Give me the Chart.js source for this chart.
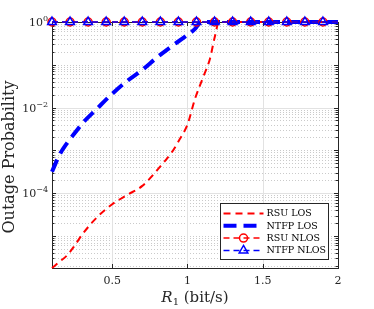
<!DOCTYPE html>
<html lang="en">
<head>
  <meta charset="UTF-8">
  <title>Outage Probability</title>
  <script src="https://cdn.jsdelivr.net/npm/chart.js"></script>
  <style>
    body { margin: 0; background: #fff; }
  </style>
</head>
<body>
  <canvas id="myChart" width="374" height="309"></canvas>

  <script>
    // RSU LOS (thin red dashed)
    const rsuLosX = [0.1, 0.15, 0.2, 0.25, 0.3, 0.4, 0.5, 0.6, 0.7, 0.8, 0.9, 0.95, 1.0, 1.05, 1.1, 1.15, 1.18, 1.21, 1.3, 1.5, 1.7, 2.0];
    const rsuLosY = [1.78e-6, 2.5e-6, 3.5e-6, 5.9e-6, 1.07e-5, 2.75e-5, 5.5e-5, 9.1e-5, 1.48e-4, 3.5e-4, 9.5e-4, 1.86e-3, 4.0e-3, 1.6e-2, 4.7e-2, 0.141, 0.43, 1, 1, 1, 1, 1];

    // NTFP LOS (thick blue dashed)
    const ntfpLosX = [0.1, 0.15, 0.2, 0.25, 0.3, 0.4, 0.5, 0.6, 0.7, 0.8, 0.9, 1.0, 1.05, 1.09, 1.3, 1.6, 2.0];
    const ntfpLosY = [3.16e-4, 7.9e-4, 1.48e-3, 2.5e-3, 4.2e-3, 9.5e-3, 0.021, 0.042, 0.076, 0.151, 0.28, 0.50, 0.69, 1, 1, 1, 1];

    // NLOS curves stay at 1 over the whole range (markers every 0.12)
    const nlosX = [0.1, 0.22, 0.34, 0.46, 0.58, 0.7, 0.82, 0.94, 1.06, 1.18, 1.3, 1.42, 1.54, 1.66, 1.78, 1.9, 2.0];
    const rsuNlosY = [1, 1, 1, 1, 1, 1, 1, 1, 1, 1, 1, 1, 1, 1, 1, 1, 1];
    const ntfpNlosY = [1, 1, 1, 1, 1, 1, 1, 1, 1, 1, 1, 1, 1, 1, 1, 1, 1];

    const xTicks = [0.5, 1, 1.5, 2];
    const xTickLabels = ['0.5', '1', '1.5', '2'];
    const yTicks = [1, 1e-2, 1e-4];
    const yTickExp = ['0', '\u22122', '\u22124'];

    const legendLabels = ['RSU LOS', 'NTFP LOS', 'RSU NLOS', 'NTFP NLOS'];

    const SERIF = '"DejaVu Serif", "Liberation Serif", serif';

    function pts(xs, ys) {
      return xs.map((x, i) => ({ x: x, y: ys[i] }));
    }

    // markers on every NLOS point except the last one (2.0)
    const nlosRadius = (r) => nlosX.map((x, i) => (i === nlosX.length - 1 ? 0 : r));

    // grid, box and inward ticks like a MATLAB axes
    const axesPlugin = {
      id: 'axesPlugin',
      beforeDatasetsDraw(chart) {
        const { ctx, chartArea: a, scales } = chart;
        const xs = scales.x, ys = scales.y;
        ctx.save();

        // minor dotted horizontal grid
        ctx.strokeStyle = '#cacaca';
        ctx.lineWidth = 1;
        ctx.setLineDash([1, 2]);
        for (let k = -6; k <= 0; k++) {
          for (let m = 1; m <= 9; m++) {
            const v = m * Math.pow(10, k);
            if (v < ys.min || v > ys.max) continue;
            if (m === 1 && yTicks.some(t => Math.abs(Math.log10(t) - k) < 1e-9)) continue;
            const py = Math.round(ys.getPixelForValue(v)) + 0.5;
            ctx.beginPath();
            ctx.moveTo(a.left, py);
            ctx.lineTo(a.right, py);
            ctx.stroke();
          }
        }

        // major solid grid
        ctx.setLineDash([]);
        ctx.strokeStyle = '#e2e2e2';
        yTicks.forEach(v => {
          const py = Math.round(ys.getPixelForValue(v)) + 0.5;
          ctx.beginPath();
          ctx.moveTo(a.left, py);
          ctx.lineTo(a.right, py);
          ctx.stroke();
        });
        xTicks.forEach(v => {
          const px = Math.round(xs.getPixelForValue(v)) + 0.5;
          ctx.beginPath();
          ctx.moveTo(px, a.top);
          ctx.lineTo(px, a.bottom);
          ctx.stroke();
        });

        // box
        ctx.strokeStyle = '#262626';
        ctx.lineWidth = 1;
        ctx.strokeRect(Math.round(a.left) + 0.5, Math.round(a.top) + 0.5,
          Math.round(a.right - a.left), Math.round(a.bottom - a.top));

        // inward ticks
        ctx.beginPath();
        for (let k = -6; k <= 0; k++) {
          for (let m = 1; m <= 9; m++) {
            const v = m * Math.pow(10, k);
            if (v < ys.min || v > ys.max) continue;
            const len = m === 1 ? 4 : 2.5;
            const py = Math.round(ys.getPixelForValue(v)) + 0.5;
            ctx.moveTo(a.left, py); ctx.lineTo(a.left + len, py);
            ctx.moveTo(a.right, py); ctx.lineTo(a.right - len, py);
          }
        }
        xTicks.forEach(v => {
          const px = Math.round(xs.getPixelForValue(v)) + 0.5;
          ctx.moveTo(px, a.bottom); ctx.lineTo(px, a.bottom - 4);
          ctx.moveTo(px, a.top); ctx.lineTo(px, a.top + 4);
        });
        ctx.stroke();
        ctx.restore();
      },
      afterDraw(chart) {
        const { ctx, chartArea: a, scales } = chart;
        const xs = scales.x, ys = scales.y;
        ctx.save();
        ctx.fillStyle = '#262626';

        // y tick labels 10^k
        yTicks.forEach((v, i) => {
          const py = ys.getPixelForValue(v);
          ctx.font = '11px ' + SERIF;
          const wBase = ctx.measureText('10').width;
          ctx.font = '8px ' + SERIF;
          const wExp = ctx.measureText(yTickExp[i]).width;
          const right = a.left - 4;
          ctx.textAlign = 'left';
          ctx.textBaseline = 'alphabetic';
          ctx.font = '11px ' + SERIF;
          ctx.fillText('10', right - wBase - wExp, py + 4);
          ctx.font = '8px ' + SERIF;
          ctx.fillText(yTickExp[i], right - wExp, py - 1);
        });

        // x tick labels
        ctx.font = '11px ' + SERIF;
        ctx.textAlign = 'center';
        ctx.textBaseline = 'middle';
        xTicks.forEach((v, i) => {
          ctx.fillText(xTickLabels[i], xs.getPixelForValue(v), a.bottom + 13);
        });

        // x title: R_1 (bit/s)
        const cx = (a.left + a.right) / 2;
        const ty = a.bottom + 34;
        ctx.textBaseline = 'alphabetic';
        ctx.textAlign = 'left';
        ctx.font = 'italic 15px ' + SERIF;
        const wR = ctx.measureText('R').width;
        ctx.font = '10px ' + SERIF;
        const wSub = ctx.measureText('1').width;
        ctx.font = '15px ' + SERIF;
        const wRest = ctx.measureText(' (bit/s)').width;
        let sx = cx - (wR + wSub + wRest) / 2;
        ctx.font = 'italic 15px ' + SERIF;
        ctx.fillText('R', sx, ty);
        ctx.font = '10px ' + SERIF;
        ctx.fillText('1', sx + wR, ty + 3);
        ctx.font = '15px ' + SERIF;
        ctx.fillText(' (bit/s)', sx + wR + wSub, ty);

        // y title
        ctx.save();
        ctx.translate(14, 157);
        ctx.rotate(-Math.PI / 2);
        ctx.textAlign = 'center';
        ctx.font = '16px ' + SERIF;
        ctx.fillText('Outage Probability', 0, 0);
        ctx.restore();

        // legend
        const bw = 108, bh = 56;
        const bx = Math.round(a.right - 10 - bw) + 0.5;
        const by = Math.round(a.bottom - 9 - bh) + 0.5;
        ctx.fillStyle = '#ffffff';
        ctx.fillRect(bx, by, bw, bh);
        ctx.strokeStyle = '#262626';
        ctx.lineWidth = 1;
        ctx.strokeRect(bx, by, bw, bh);

        chart.data.datasets.forEach((ds, i) => {
          const ly = by + 10 + i * 12.3;
          ctx.save();
          ctx.strokeStyle = ds.borderColor;
          ctx.lineWidth = ds.borderWidth;
          ctx.setLineDash(ds.borderDash);
          ctx.beginPath();
          ctx.moveTo(bx + 3, ly);
          ctx.lineTo(bx + 43, ly);
          ctx.stroke();
          ctx.setLineDash([]);
          if (ds.pointStyle === 'circle') {
            ctx.lineWidth = 1.5;
            ctx.beginPath();
            ctx.arc(bx + 23, ly, 4, 0, Math.PI * 2);
            ctx.stroke();
          } else if (ds.pointStyle === 'triangle') {
            ctx.lineWidth = 1.5;
            const r = 5;
            ctx.beginPath();
            ctx.moveTo(bx + 23, ly - r);
            ctx.lineTo(bx + 23 + r * 0.866, ly + r * 0.5);
            ctx.lineTo(bx + 23 - r * 0.866, ly + r * 0.5);
            ctx.closePath();
            ctx.stroke();
          }
          ctx.restore();
          ctx.fillStyle = '#000000';
          ctx.font = '9.5px ' + SERIF;
          ctx.textAlign = 'left';
          ctx.textBaseline = 'middle';
          ctx.fillText(legendLabels[i], bx + 46, ly + 0.5);
        });

        ctx.restore();
      }
    };

    const ctx = document.getElementById('myChart').getContext('2d');
    new Chart(ctx, {
      type: 'line',
      data: {
        datasets: [
          {
            label: legendLabels[0],
            data: pts(rsuLosX, rsuLosY),
            borderColor: '#ff0000',
            borderWidth: 2,
            borderDash: [7, 5],
            pointRadius: 0,
            cubicInterpolationMode: 'monotone',
            clip: false,
            order: 4
          },
          {
            label: legendLabels[1],
            data: pts(ntfpLosX, ntfpLosY),
            borderColor: '#0000ff',
            borderWidth: 4,
            borderDash: [13, 7],
            pointRadius: 0,
            cubicInterpolationMode: 'monotone',
            clip: false,
            order: 3
          },
          {
            label: legendLabels[2],
            data: pts(nlosX, rsuNlosY),
            borderColor: '#ff0000',
            borderWidth: 1.5,
            borderDash: [6, 4],
            pointStyle: 'circle',
            pointRadius: nlosRadius(4),
            pointBorderColor: '#ff0000',
            pointBackgroundColor: 'rgba(0,0,0,0)',
            pointBorderWidth: 1.5,
            clip: false,
            order: 2
          },
          {
            label: legendLabels[3],
            data: pts(nlosX, ntfpNlosY),
            borderColor: '#0000ff',
            borderWidth: 1.5,
            borderDash: [6, 4],
            pointStyle: 'triangle',
            pointRadius: nlosRadius(5),
            pointBorderColor: '#0000ff',
            pointBackgroundColor: 'rgba(0,0,0,0)',
            pointBorderWidth: 1.5,
            clip: false,
            order: 1
          }
        ]
      },
      options: {
        responsive: false,
        animation: false,
        devicePixelRatio: 1,
        layout: { padding: { left: 0, right: 36, top: 22, bottom: 0 } },
        plugins: {
          legend: { display: false },
          tooltip: { enabled: false }
        },
        scales: {
          x: {
            type: 'linear',
            min: 0.1,
            max: 2,
            grid: { display: false },
            border: { display: false },
            ticks: { display: false },
            afterFit: (scale) => { scale.height = 41; }
          },
          y: {
            type: 'logarithmic',
            min: 1.78e-6,
            max: 1,
            grid: { display: false },
            border: { display: false },
            ticks: { display: false },
            afterFit: (scale) => { scale.width = 52; }
          }
        }
      },
      plugins: [axesPlugin]
    });
  </script>
</body>
</html>
